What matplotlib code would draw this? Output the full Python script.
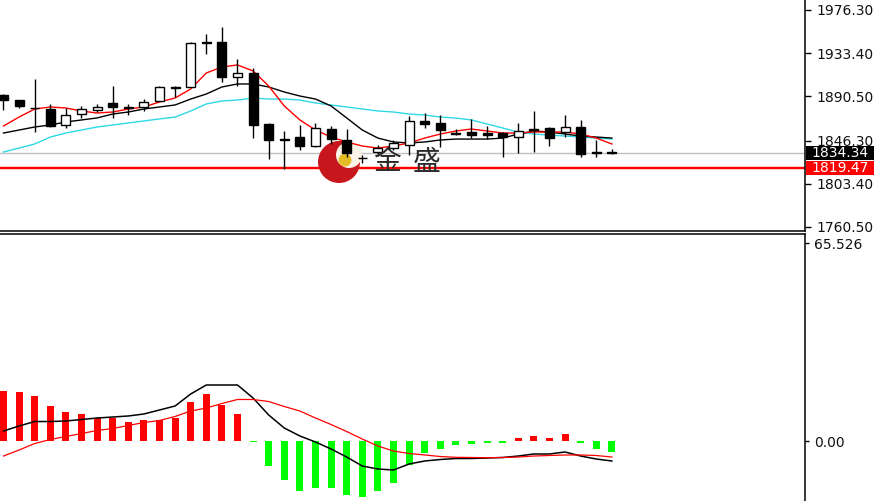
import matplotlib
matplotlib.use("Agg")
import matplotlib.pyplot as plt
import matplotlib.transforms as mtransforms
from matplotlib.patches import Circle, Rectangle
import numpy as np

# Velas
opens = [1891.7, 1886.7, 1878.8, 1877.8, 1861.9, 1872.8, 1876.8, 1883.8, 1879.8, 1879.8,
         1885.8, 1899.7, 1899.7, 1944.4, 1944.4, 1909.6, 1913.6, 1862.9, 1847.5, 1849.9,
         1841.0, 1857.9, 1847.0, 1829.1, 1835.0, 1839.0, 1842.0, 1865.9, 1863.9, 1853.9,
         1854.9, 1853.9, 1853.9, 1849.9, 1857.9, 1858.9, 1854.9, 1859.9, 1835.0, 1834.8]
highs = [1892.7, 1887.2, 1907.6, 1882.8, 1878.8, 1880.8, 1882.8, 1900.7, 1882.8, 1887.7,
         1900.7, 1900.7, 1944.0, 1952.4, 1959.3, 1927.5, 1918.6, 1863.9, 1855.9, 1861.9,
         1863.9, 1860.9, 1857.9, 1832.1, 1842.0, 1847.0, 1870.8, 1873.8, 1871.8, 1857.9,
         1867.9, 1860.9, 1854.9, 1863.9, 1875.8, 1860.0, 1871.8, 1866.9, 1847.0, 1838.0]
lows = [1876.8, 1878.8, 1854.9, 1860.0, 1858.9, 1868.8, 1874.8, 1868.8, 1871.8, 1875.8,
        1885.3, 1889.7, 1899.2, 1932.5, 1904.6, 1900.7, 1849.0, 1828.1, 1817.9, 1837.0,
        1840.0, 1843.0, 1830.0, 1824.1, 1831.0, 1837.0, 1832.1, 1858.9, 1840.0, 1851.9,
        1849.0, 1848.0, 1830.1, 1834.0, 1835.0, 1841.0, 1849.9, 1830.1, 1830.1, 1833.0]
closes = [1886.7, 1880.8, 1878.3, 1860.9, 1871.8, 1877.8, 1879.8, 1879.8, 1878.8, 1884.8,
          1899.7, 1899.0, 1943.4, 1943.9, 1909.6, 1913.6, 1861.9, 1847.0, 1847.0, 1841.0,
          1858.9, 1848.0, 1834.0, 1828.6, 1839.0, 1844.0, 1865.9, 1862.9, 1856.9, 1853.4,
          1851.9, 1852.4, 1849.9, 1855.9, 1856.9, 1849.0, 1859.9, 1833.1, 1834.5, 1834.34]

# Medias móviles
ma_red = [1860.9, 1869.8, 1877.8, 1879.8, 1878.8, 1875.8, 1873.8, 1874.8, 1877.8, 1879.8,
          1884.8, 1888.7, 1897.7, 1913.6, 1919.6, 1921.6, 1915.6, 1900.7, 1880.8, 1866.9,
          1856.9, 1849.9, 1845.0, 1841.0, 1839.0, 1841.0, 1844.0, 1848.9, 1852.9, 1855.9,
          1857.9, 1855.9, 1853.9, 1853.9, 1854.9, 1854.9, 1854.9, 1852.9, 1848.9, 1843.0]
ma_black = [1853.9, 1856.9, 1859.9, 1861.9, 1864.9, 1866.9, 1868.9, 1872.8, 1874.8, 1877.8,
            1879.8, 1881.8, 1887.7, 1892.7, 1899.7, 1902.7, 1902.7, 1899.7, 1894.7, 1890.7,
            1887.7, 1880.8, 1868.9, 1856.9, 1848.9, 1845.0, 1844.0, 1845.0, 1847.0, 1847.9,
            1847.9, 1847.9, 1848.9, 1852.9, 1855.9, 1854.9, 1852.9, 1850.9, 1849.9, 1848.9]
ma_cyan = [1835.0, 1839.0, 1843.0, 1849.9, 1853.9, 1856.9, 1859.9, 1861.9, 1863.9, 1865.9,
           1867.9, 1869.8, 1875.8, 1882.8, 1885.8, 1886.7, 1888.7, 1887.7, 1887.7, 1886.7,
           1883.8, 1881.8, 1879.8, 1877.8, 1875.8, 1874.8, 1872.8, 1871.8, 1869.8, 1868.8,
           1866.9, 1862.9, 1858.9, 1854.9, 1852.9, 1851.9, 1850.9, 1849.9, 1848.9, 1847.9]

# MACD
macd_hist = [16.6, 16.3, 14.9, 11.6, 9.7, 8.9, 7.7, 7.5, 6.2, 7.0,
             7.0, 7.7, 12.8, 15.5, 11.9, 8.8, -0.3, -8.2, -12.9, -16.4,
             -15.7, -15.7, -17.9, -18.4, -16.4, -13.8, -7.9, -4.1, -2.6, -1.3,
             -1.0, -0.55, -0.55, 0.9, 1.75, 0.9, 2.3, -0.77, -2.65, -3.5]
macd_dif = [3.31, 4.97, 6.45, 6.45, 6.62, 7.12, 7.61, 7.94, 8.28, 8.94,
            10.26, 11.59, 15.56, 18.54, 18.54, 18.54, 14.23, 8.61, 4.30, 1.66,
            -0.33, -2.65, -5.30, -8.28, -9.27, -9.60, -7.61, -6.62, -6.12, -5.79,
            -5.79, -5.63, -5.46, -4.97, -4.30, -4.30, -3.64, -4.97, -5.96, -6.62]
macd_dea = [-4.97, -2.98, -0.83, 0.50, 1.49, 2.48, 3.48, 4.14, 5.13, 6.12,
            6.79, 8.11, 9.93, 10.92, 12.41, 13.74, 13.74, 13.07, 11.42, 9.93,
            7.61, 5.46, 3.14, 0.66, -1.66, -3.31, -4.14, -4.63, -5.13, -5.40,
            -5.46, -5.53, -5.46, -5.30, -4.97, -4.80, -4.63, -4.63, -4.80, -5.30]

price_ticks = [1976.30, 1933.40, 1890.50, 1846.30, 1803.40, 1760.50]
macd_ticks = [65.526, 0.00]
bid_price = 1834.34
line_price = 1819.47

W, H = 874, 501
fig = plt.figure(figsize=(W / 100, H / 100), dpi=100)
ax1 = fig.add_axes([0, (H - 231) / H, 805 / W, 236 / H])
ax2 = fig.add_axes([0, -10 / H, 805 / W, 277 / H])

idx = np.arange(len(closes))
o, hi, lo, c = map(np.array, (opens, highs, lows, closes))

# Panel de precios
ax1.axhline(bid_price, color="#c0c0c0", lw=1, zorder=1)
ax1.axhline(line_price, color="red", lw=1.7, zorder=2)

# logo de fondo (marca de agua)
ident = mtransforms.IdentityTransform()
ax1.add_patch(Circle((339, H - 162), 21, transform=ident, fc="#c8161d", ec="none", zorder=2.2))
ax1.add_patch(Circle((349, H - 155), 13, transform=ident, fc="#fbf3e6", ec="none", zorder=2.3))
ax1.add_patch(Circle((345, H - 160), 6.5, transform=ident, fc="#e3bd28", ec="none", zorder=2.4))
ax1.text(387, H - 162, "金", transform=ident, fontsize=20, family=["Noto Sans CJK SC"],
         color="#2a2a2a", ha="center", va="center", zorder=6)
ax1.text(427, H - 162, "盛", transform=ident, fontsize=20, family=["Noto Sans CJK SC"],
         color="#2a2a2a", ha="center", va="center", zorder=6)

ax1.plot(idx, ma_cyan, color="#2ed8e6", lw=1, zorder=3)
ax1.plot(idx, ma_black, color="black", lw=1, zorder=3)
ax1.plot(idx, ma_red, color="red", lw=1, zorder=3)

ax1.vlines(idx, lo, hi, color="black", lw=1, zorder=4)
body_bottom = np.minimum(o, c)
body_height = np.maximum(np.abs(c - o), 0.4)
body_colors = np.where(c >= o, "white", "black")
ax1.bar(idx, body_height, 0.58, bottom=body_bottom, color=body_colors,
        edgecolor="black", linewidth=1, zorder=5)

ax1.set_ylim(1756.47, 1991.17)

# etiquetas de precio a la derecha
blend = mtransforms.blended_transform_factory(ax1.transAxes, ax1.transData)
ax1.add_patch(Rectangle((1.0015, bid_price - 7), 0.1, 14, transform=blend,
                        fc="black", ec="none", clip_on=False, zorder=7))
ax1.add_patch(Rectangle((1.0015, line_price - 7), 0.1, 14, transform=blend,
                        fc="red", ec="none", clip_on=False, zorder=7))
ax1.text(811 / 805, bid_price, f"{bid_price:.2f}", transform=blend, color="white",
         fontsize=10, ha="left", va="center", clip_on=False, zorder=8)
ax1.text(811 / 805, line_price, f"{line_price:.2f}", transform=blend, color="white",
         fontsize=10, ha="left", va="center", clip_on=False, zorder=8)

# Panel MACD
hist = np.array(macd_hist)
ax2.bar(idx, hist, 0.45, color=np.where(hist >= 0, "red", "#00ff00"), zorder=2)
ax2.plot(idx, macd_dif, color="black", lw=1.1, zorder=3)
ax2.plot(idx, macd_dea, color="red", lw=0.9, zorder=3)
ax2.set_ylim(-23.17, 68.52)

for ax in (ax1, ax2):
    ax.set_xlim(-0.224, 51.38)
    ax.set_xticks([])
    ax.yaxis.tick_right()
    ax.spines["left"].set_visible(False)
    for s in ax.spines.values():
        s.set_linewidth(1.1)
        s.set_color("black")
    ax.tick_params(axis="y", direction="out", length=4, width=1, pad=4.5,
                   labelsize=10, labelcolor="#111111")
    ax.set_facecolor("white")

ax1.spines["top"].set_visible(False)
ax2.spines["bottom"].set_visible(False)
ax1.set_yticks(price_ticks)
ax1.set_yticklabels([f"{t:.2f}" for t in price_ticks])
ax2.set_yticks(macd_ticks)
ax2.set_yticklabels(["65.526", "0.00"])
ax2.tick_params(axis="y", length=3, pad=3.5)

fig.savefig("out.png", dpi=100)
